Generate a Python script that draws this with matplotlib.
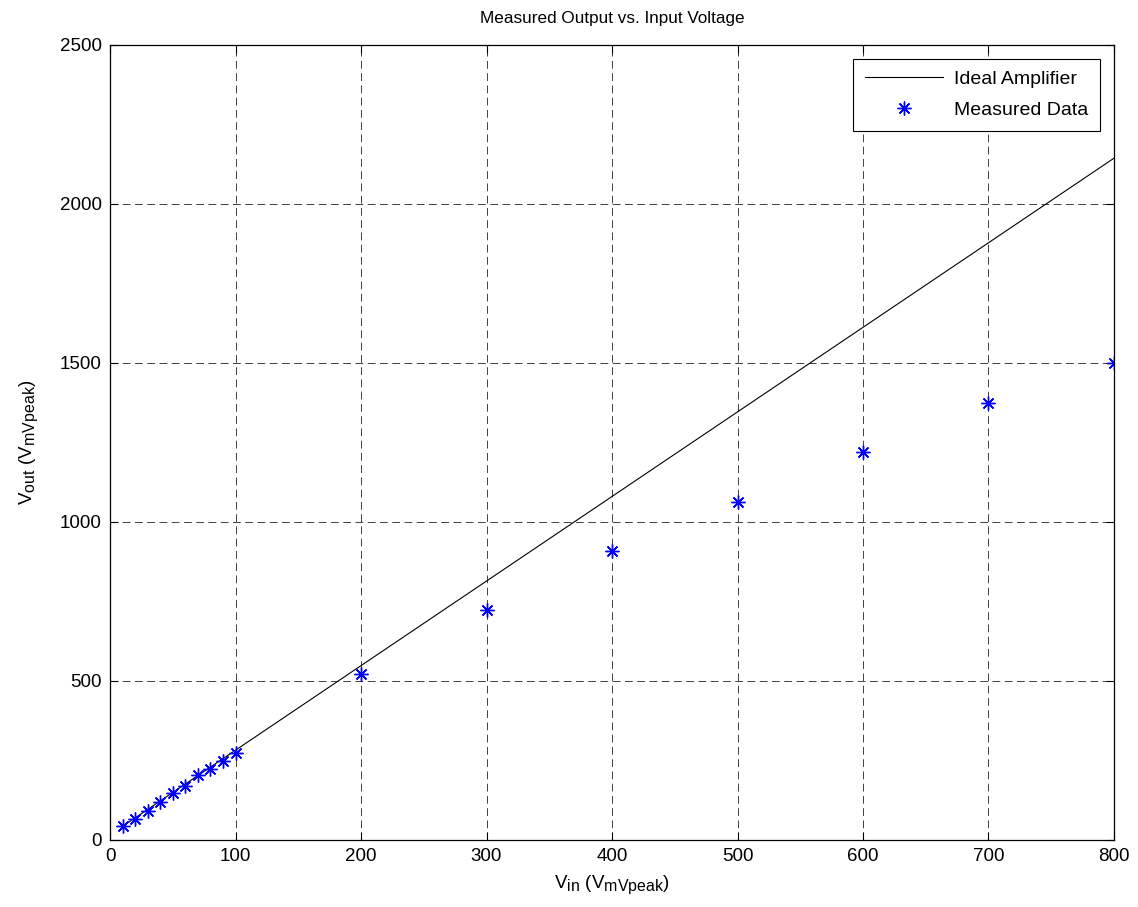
import matplotlib
matplotlib.use("Agg")
from matplotlib import pyplot as plt
import matplotlib._mathtext as mt

plt.rcParams['font.family'] = ['Liberation Sans', 'DejaVu Sans']
plt.rcParams['mathtext.fontset'] = 'custom'
plt.rcParams['mathtext.rm'] = 'Liberation Sans'
plt.rcParams['mathtext.it'] = 'Liberation Sans'
# bigger subscripts, like the original
mt.SHRINK_FACTOR = 0.85

# ideal amplifier line
ideal_vin = [10, 800]
ideal_vout = [43, 2144]

vin = [10, 20, 30, 40, 50, 60, 70, 80, 90, 100, 200, 300, 400, 500, 600, 700, 800]
vout = [44, 66, 91, 119, 149, 171, 204, 222, 249, 275, 521, 722, 910, 1062, 1220, 1375, 1501]

xticks = [0, 100, 200, 300, 400, 500, 600, 700, 800]
yticks = [0, 500, 1000, 1500, 2000, 2500]

fs = 13.5

fig = plt.figure(figsize=(11.38, 9.07), dpi=100)
ax = fig.add_axes([0.0967, 0.0739, 0.8822, 0.8765])

ax.plot(ideal_vin, ideal_vout, color="black", linewidth=0.8, label="Ideal Amplifier")
ax.plot(vin, vout, linestyle="none", marker=(8, 2, 0), color="blue", markersize=10,
        markeredgewidth=1.0, label="Measured Data")

ax.set_xlim(0, 800)
ax.set_ylim(0, 2500)
ax.set_xticks(xticks)
ax.set_yticks(yticks)
ax.tick_params(direction="in", top=True, right=True, labelsize=fs, length=6, pad=6)
ax.grid(True, color="0.25", linestyle=(0, (8, 4.6)), linewidth=0.7)
for s in ax.spines.values():
    s.set_linewidth(0.9)

ax.set_title("Measured Output vs. Input Voltage", fontsize=12.3, pad=16)
ax.set_xlabel(r"V$_{\mathrm{in}}$ (V$_{\mathrm{mVpeak}}$)", fontsize=fs, labelpad=6)
ax.set_ylabel(r"V$_{\mathrm{out}}$ (V$_{\mathrm{mVpeak}}$)", fontsize=fs, labelpad=14)

leg = ax.legend(loc="upper right", fontsize=14, fancybox=False, edgecolor="black",
                framealpha=1, borderaxespad=0.7, handlelength=4.0, borderpad=0.6,
                labelspacing=0.7, handletextpad=0.6)
leg.get_frame().set_linewidth(0.8)

plt.savefig("out.png", dpi=100)
